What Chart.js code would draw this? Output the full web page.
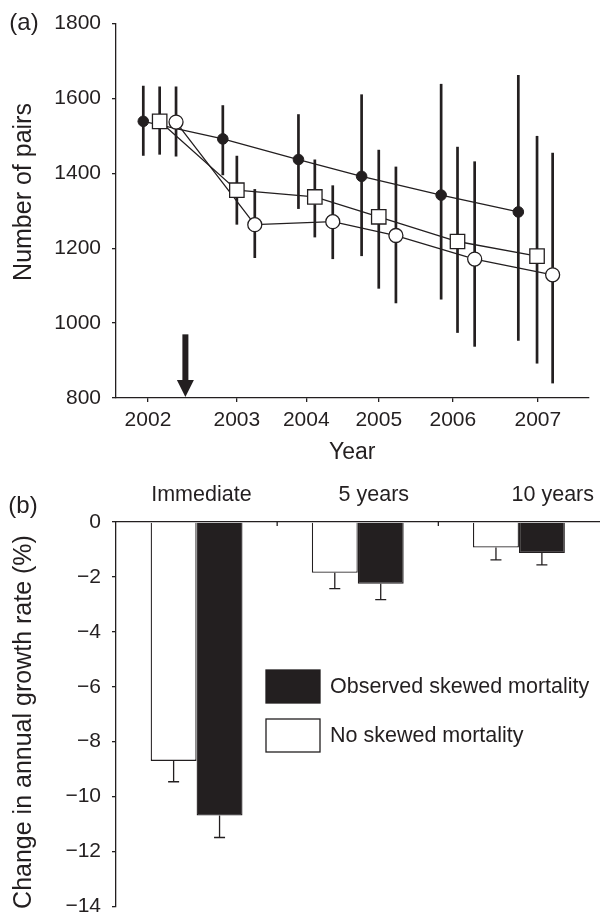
<!DOCTYPE html>
<html>
<head>
<meta charset="utf-8">
<script src="https://cdn.jsdelivr.net/npm/chart.js@4.4.1/dist/chart.umd.min.js"></script>
<style>
html, body { margin: 0; padding: 0; background: #fff; overflow: hidden; }
#wrapA { position: absolute; left: 0; top: 0; width: 600px; height: 470px; }
#wrapB { position: absolute; left: 0; top: 470px; width: 600px; height: 460px; }
</style>
</head>
<body>
<div id="wrapA"><canvas id="chartA"></canvas></div>
<div id="wrapB"><canvas id="chartB"></canvas></div>
<script>
// (a) number of pairs; x is decimal year
const yearLabels = ['2002', '2003', '2004', '2005', '2006', '2007'];
const yearTickPos = [2002.00, 2003.14, 2004.03, 2004.96, 2005.91, 2007.00];

const filledX = [2001.94, 2002.96, 2003.93, 2004.74, 2005.76, 2006.75];
const filledY = [1539, 1492, 1437, 1392, 1342, 1297];
const filledLo = [1447, 1395, 1305, 1179, 1063, 953];
const filledHi = [1634, 1582, 1558, 1611, 1639, 1663];

const squareX = [2002.15, 2003.14, 2004.14, 2004.96, 2005.97, 2006.99];
const squareY = [1539, 1355, 1337, 1284, 1218, 1179];
const squareLo = [1450, 1263, 1229, 1092, 974, 892];
const squareHi = [1632, 1447, 1437, 1463, 1471, 1500];

const openX = [2002.36, 2003.37, 2004.37, 2005.18, 2006.19, 2007.19];
const openY = [1537, 1263, 1271, 1234, 1171, 1129];
const openLo = [1445, 1174, 1171, 1053, 937, 839];
const openHi = [1632, 1358, 1368, 1418, 1432, 1455];

const arrowYear = 2002.48;
const arrowFrom = 970;
const arrowTo = 800;

// (b) change in annual growth rate
const periods = ['Immediate', '5 years', '10 years'];
const periodLabelPos = [0.03, 1.10, 2.21];
const noSkewed = [-8.70, -1.85, -0.93];
const noSkewedErr = [-9.46, -2.43, -1.38];
const observed = [-10.69, -2.25, -1.13];
const observedErr = [-11.49, -2.83, -1.56];

const ink = '#231f20';
const fontFamily = "'Liberation Sans', Arial, Helvetica, sans-serif";
Chart.defaults.font.family = fontFamily;
Chart.defaults.color = ink;

function pts(xs, ys) {
    return xs.map((x, i) => ({x: x, y: ys[i]}));
}

// panel letter and the rotated y title
const panelText = {
    id: 'panelText',
    afterDraw(chart, args, opts) {
        const ctx = chart.ctx;
        ctx.save();
        ctx.fillStyle = ink;
        ctx.textAlign = 'center';
        ctx.textBaseline = 'middle';
        ctx.font = '24px ' + fontFamily;
        ctx.fillText(opts.letter, opts.letterX, opts.letterY);
        ctx.font = '25px ' + fontFamily;
        ctx.translate(opts.titleX, opts.titleY);
        ctx.rotate(-Math.PI / 2);
        ctx.fillText(opts.title, 0, 0);
        ctx.restore();
    }
};

const errorBarsA = {
    id: 'errorBarsA',
    beforeDatasetsDraw(chart) {
        const ctx = chart.ctx;
        const xs = chart.scales.x, ys = chart.scales.y;
        const sets = [[filledX, filledLo, filledHi], [squareX, squareLo, squareHi], [openX, openLo, openHi]];
        ctx.save();
        ctx.strokeStyle = ink;
        ctx.lineWidth = 2.7;
        sets.forEach(s => {
            for (let i = 0; i < s[0].length; i++) {
                const px = xs.getPixelForValue(s[0][i]);
                ctx.beginPath();
                ctx.moveTo(px, ys.getPixelForValue(s[1][i]));
                ctx.lineTo(px, ys.getPixelForValue(s[2][i]));
                ctx.stroke();
            }
        });
        // arrow marking the event
        const ax = xs.getPixelForValue(arrowYear);
        const top = ys.getPixelForValue(arrowFrom);
        const tip = ys.getPixelForValue(arrowTo) - 1;
        ctx.fillStyle = ink;
        ctx.fillRect(ax - 3, top, 6, tip - top - 15);
        ctx.beginPath();
        ctx.moveTo(ax - 8.5, tip - 17);
        ctx.lineTo(ax + 8.5, tip - 17);
        ctx.lineTo(ax, tip);
        ctx.closePath();
        ctx.fill();
        ctx.restore();
    }
};

const lineSet = (xs, ys) => ({
    type: 'scatter',
    data: pts(xs, ys),
    showLine: true,
    borderColor: ink,
    borderWidth: 1.3,
    pointRadius: 0,
    order: 10
});

new Chart(document.getElementById('chartA'), {
    type: 'scatter',
    data: {
        datasets: [
            lineSet(filledX, filledY),
            lineSet(squareX, squareY),
            lineSet(openX, openY),
            {data: pts(filledX, filledY), pointStyle: 'circle', pointRadius: 5.3, backgroundColor: ink, borderColor: ink, borderWidth: 1, order: 3},
            {data: pts(squareX, squareY), pointStyle: 'rect', pointRadius: 10.2, backgroundColor: '#fff', borderColor: ink, borderWidth: 1.3, order: 2},
            {data: pts(openX, openY), pointStyle: 'circle', pointRadius: 7, backgroundColor: '#fff', borderColor: ink, borderWidth: 1.3, order: 1}
        ]
    },
    options: {
        responsive: true,
        maintainAspectRatio: false,
        animation: false,
        layout: {padding: {top: 18, left: 0, right: 0, bottom: 0}},
        plugins: {
            legend: {display: false},
            tooltip: {enabled: false},
            panelText: {letter: '(a)', letterX: 24, letterY: 23, title: 'Number of pairs', titleX: 24, titleY: 192}
        },
        scales: {
            x: {
                type: 'linear',
                min: 2001.59,
                max: 2007.65,
                afterBuildTicks: s => { s.ticks = yearTickPos.map(v => ({value: v})); },
                afterFit: s => { s.height = 72; },
                ticks: {callback: (v, i) => yearLabels[i], font: {size: 21}, padding: 6, maxRotation: 0, autoSkip: false},
                grid: {drawOnChartArea: false, tickLength: 4, color: ink, lineWidth: 1.3},
                border: {color: ink, width: 1.3},
                title: {display: true, text: 'Year', font: {size: 23}, padding: {top: 0, bottom: 4}}
            },
            y: {
                min: 800,
                max: 1800,
                afterFit: s => { s.width = 116; },
                ticks: {stepSize: 200, font: {size: 21}, padding: 11, callback: v => String(v)},
                grid: {drawOnChartArea: false, tickLength: 4, color: ink, lineWidth: 1.3},
                border: {color: ink, width: 1.3}
            }
        }
    },
    plugins: [errorBarsA, panelText]
});

const barExtras = {
    id: 'barExtras',
    afterDatasetsDraw(chart) {
        const ctx = chart.ctx;
        const xs = chart.scales.x, ys = chart.scales.y;
        const errs = [noSkewedErr, observedErr];
        ctx.save();
        ctx.strokeStyle = ink;
        ctx.lineWidth = 1.3;
        errs.forEach((err, d) => {
            chart.getDatasetMeta(d).data.forEach((el, i) => {
                const ey = ys.getPixelForValue(err[i]);
                ctx.beginPath();
                ctx.moveTo(el.x, el.y);
                ctx.lineTo(el.x, ey);
                ctx.moveTo(el.x - 5.5, ey);
                ctx.lineTo(el.x + 5.5, ey);
                ctx.stroke();
            });
        });
        // small ticks between the groups, on the zero line
        const top = chart.chartArea.top;
        for (let i = 0; i < periods.length - 1; i++) {
            const bx = (xs.getPixelForValue(i) + xs.getPixelForValue(i + 1)) / 2;
            ctx.beginPath();
            ctx.moveTo(bx, top);
            ctx.lineTo(bx, top + 4);
            ctx.stroke();
        }
        // legend
        const ds = chart.data.datasets;
        const rows = [ds[1], ds[0]];
        ctx.font = '21.5px ' + fontFamily;
        ctx.textBaseline = 'middle';
        ctx.textAlign = 'left';
        rows.forEach((d, r) => {
            const ly = 200 + r * 49;
            ctx.fillStyle = d.backgroundColor;
            ctx.fillRect(266, ly, 54, 33);
            ctx.strokeRect(266, ly, 54, 33);
            ctx.fillStyle = ink;
            ctx.fillText(d.label, 330, ly + 17);
        });
        ctx.restore();
    }
};

new Chart(document.getElementById('chartB'), {
    type: 'bar',
    data: {
        labels: periods,
        datasets: [
            {label: 'No skewed mortality', data: noSkewed, backgroundColor: '#fff', borderColor: ink, borderWidth: 1.3},
            {label: 'Observed skewed mortality', data: observed, backgroundColor: ink, borderColor: ink, borderWidth: 1.3}
        ]
    },
    options: {
        responsive: true,
        maintainAspectRatio: false,
        animation: false,
        categoryPercentage: 0.57,
        barPercentage: 1.0,
        layout: {padding: {top: 0, left: 0, right: 0, bottom: 22}},
        plugins: {
            legend: {display: false},
            tooltip: {enabled: false},
            panelText: {letter: '(b)', letterX: 23, letterY: 36, title: 'Change in annual growth rate (%)', titleX: 24, titleY: 252}
        },
        scales: {
            x: {
                position: 'top',
                offset: true,
                afterFit: s => { s.height = 0; },
                ticks: {display: false},
                grid: {display: false},
                border: {color: ink, width: 1.3}
            },
            x2: {
                type: 'linear',
                position: 'top',
                weight: 1,
                offset: false,
                min: -0.5,
                max: 2.5,
                afterBuildTicks: s => { s.ticks = periodLabelPos.map(v => ({value: v})); },
                afterFit: s => { s.height = 52; },
                ticks: {callback: (v, i) => periods[i], font: {size: 21.5}, padding: 6, maxRotation: 0, autoSkip: false},
                grid: {display: false, offset: false},
                border: {display: false}
            },
            y: {
                min: -14,
                max: 0,
                afterFit: s => { s.width = 116; },
                ticks: {stepSize: 2, font: {size: 21}, padding: 11, callback: v => String(v).replace('-', '\u2212')},
                grid: {drawOnChartArea: false, tickLength: 4, color: ink, lineWidth: 1.3},
                border: {color: ink, width: 1.3}
            }
        }
    },
    plugins: [barExtras, panelText]
});
</script>
</body>
</html>
